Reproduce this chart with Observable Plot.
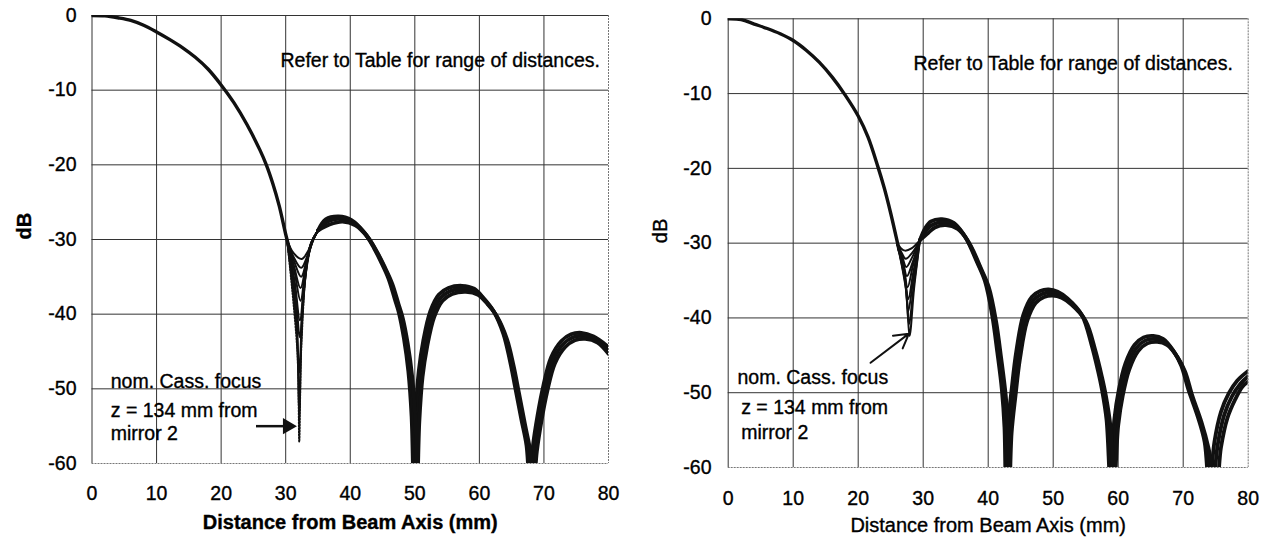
<!DOCTYPE html>
<html>
<head>
<meta charset="utf-8">
<script src="https://cdn.jsdelivr.net/npm/d3@7"></script>
<script src="https://cdn.jsdelivr.net/npm/@observablehq/plot@0.6"></script>
<style>
  body { margin: 0; background: #fff; }
  #wrap { display: flex; width: 1271px; height: 544px; overflow: hidden; }
  #wrap svg { flex: none; max-width: none; }
  #wrap svg text { stroke: #000; stroke-width: 0.35px; }
</style>
</head>
<body>
<div id="wrap"></div>
<script>
// Axis ticks shared by both panels
const xTicks = [0, 10, 20, 30, 40, 50, 60, 70, 80];
const yTicks = [0, -10, -20, -30, -40, -50, -60];

// Text
const xTitle = "Distance from Beam Axis (mm)";
const yTitle = "dB";
const tableNote = "Refer to Table for range of distances.";
const focusNote = ["nom. Cass. focus", "z = 134 mm from", "mirror 2"];

// ---- Left panel: beam cuts [distance mm, dB] ----
// main lobe, common to every cut
const leftMain = [[0,0],[2,-0.05],[4,-0.3],[6,-0.65],[8,-1.3],[10,-2.2],[12,-3.2],[14,-4.3],[16,-5.6],[18,-7.2],[20,-9.3],[22,-11.7],[24,-14.6],[26,-18.0],[27,-20],[28,-22.5],[29,-25.5],[30,-29.3],[30.5,-31]];
// first null, one V per distance
const leftNulls = [
  [[30.2,-30],[31.2,-31.8],[32.5,-32.6],[33.5,-31.5],[34.3,-29.9],[35,-28.8]],
  [[30.2,-30],[31.2,-32.3],[32.4,-33.8],[33.4,-32.1],[34.3,-30.0],[35,-28.8]],
  [[30.2,-30],[31.3,-32.9],[32.4,-35.0],[33.3,-32.6],[34.2,-30.1],[35,-28.8]],
  [[30.2,-30],[31.3,-33.6],[32.3,-36.5],[33.2,-33.2],[34.2,-30.2],[35,-28.8]],
  [[30.2,-30],[31.4,-34.5],[32.3,-38.2],[33.1,-33.8],[34.1,-30.3],[35,-28.8]],
  [[30.2,-30],[31.4,-35.7],[32.2,-40.8],[33.0,-34.8],[34.0,-30.4],[35,-28.8]],
  [[30.2,-30],[31.5,-37.0],[32.2,-43.1],[32.9,-36.0],[34.0,-30.5],[35,-28.8]],
  [[30.2,-30],[31.6,-39.5],[32.1,-47.8],[32.7,-38.0],[33.9,-30.6],[35,-28.8]],
  [[30.2,-30],[31.7,-42.0],[32.1,-53.3],[32.6,-40.0],[33.8,-30.8],[35,-28.8]]
];
// nominal Cassegrain focus cut (dotted)
const leftFocus = [[30.2,-30],[31.8,-45],[32.1,-57.1],[32.5,-43],[33.7,-31],[35,-28.8]];
// sidelobes: inner, middle and outer edge of the bundle of cuts
const leftSideInner = [[35,-28.8],[36.2,-27.3],[38.2,-26.9],[40.2,-27.4],[42.2,-29.1],[43.7,-31.2],[44.7,-32.9],[45.9,-35.2],[46.9,-38.0],[47.5,-39.7],[48.3,-43.2],[49.0,-47.7],[49.5,-53.7],[49.8,-62],[50.1,-53.7],[50.6,-47.7],[51.3,-43.6],[52.4,-39.6],[53.7,-37.4],[55.2,-36.5],[57.3,-36.2],[59.2,-36.6],[60.7,-37.9],[62.2,-39.6],[63.7,-42.6],[64.7,-46.1],[65.5,-49.6],[66.5,-54.1],[67.3,-57.6],[67.8,-63],[68.3,-57.6],[69.0,-53.6],[69.9,-49.6],[71.1,-45.8],[72.7,-43.6],[74.2,-42.7],[75.8,-42.5],[77.7,-43.0],[80,-44.4]];
const leftSideMid = [[35,-28.8],[36.5,-27.6],[38.5,-27.2],[40.5,-27.7],[42.5,-29.4],[44,-31.5],[45,-33.2],[46.2,-35.5],[47.2,-38.3],[47.8,-40],[48.6,-43.5],[49.3,-48],[49.8,-54],[50.1,-62],[50.4,-54],[50.9,-48],[51.6,-44],[52.7,-40],[54,-37.8],[55.5,-36.9],[57.6,-36.6],[59.5,-37.0],[61,-38.3],[62.5,-40],[64,-43],[65,-46.5],[65.8,-50],[66.8,-54.5],[67.6,-58],[68.1,-63],[68.6,-58],[69.3,-54],[70.2,-50],[71.4,-46.2],[73,-44.0],[74.5,-43.1],[76.1,-42.9],[78,-43.4],[80,-44.9]];
const leftSideOuter = [[35,-28.8],[36.8,-28.0],[38.8,-27.6],[40.8,-28.1],[42.8,-29.8],[44.3,-31.9],[45.3,-33.6],[46.5,-35.9],[47.5,-38.7],[48.1,-40.4],[48.9,-43.9],[49.6,-48.4],[50.1,-54.4],[50.4,-62],[50.7,-54.4],[51.2,-48.4],[51.9,-44.4],[53.0,-40.4],[54.3,-38.2],[55.8,-37.3],[57.9,-37.0],[59.8,-37.4],[61.3,-38.7],[62.8,-40.4],[64.3,-43.4],[65.3,-46.9],[66.1,-50.4],[67.1,-54.9],[67.9,-58.4],[68.4,-63],[68.9,-58.4],[69.6,-54.4],[70.5,-50.4],[71.7,-46.6],[73.3,-44.4],[74.8,-43.5],[76.4,-43.3],[78.3,-43.8],[80,-45.3]];

// ---- Right panel ----
const rightMain = [[0,0],[2,-0.1],[4,-0.7],[6,-1.3],[8,-2.0],[10,-2.9],[12,-4.2],[14,-5.8],[16,-7.8],[18,-10.2],[20,-13.0],[21.5,-15.8],[23,-19.7],[24,-22.6],[25,-26],[26,-29.8],[26.3,-31]];
const rightNulls = [
  [[26.0,-30],[26.6,-30.7],[27.2,-31.0],[28.2,-30.7],[29.5,-29.6]],
  [[26.0,-30],[26.7,-31.3],[27.3,-32.1],[28.3,-31.3],[29.5,-29.6]],
  [[26.0,-30],[26.8,-31.9],[27.4,-33.2],[28.3,-31.9],[29.5,-29.6]],
  [[26.0,-30],[26.9,-32.5],[27.5,-34.4],[28.4,-32.5],[29.5,-29.6]],
  [[26.0,-30],[27.0,-33.2],[27.6,-35.9],[28.4,-33.1],[29.5,-29.6]],
  [[26.0,-30],[27.1,-34.0],[27.7,-37.5],[28.5,-33.8],[29.5,-29.6]],
  [[26.0,-30],[27.2,-34.8],[27.7,-39.1],[28.5,-34.6],[29.5,-29.6]],
  [[26.0,-30],[27.3,-35.6],[27.8,-40.8],[28.6,-35.3],[29.5,-29.6]],
  [[26.0,-30],[27.4,-36.5],[27.9,-42.4],[28.6,-36.0],[29.5,-29.6]]
];
const rightSideInner = [[29.5,-29.6],[30.3,-28.0],[31.2,-27.1],[32.9,-26.8],[34.7,-27.3],[36.2,-28.8],[37.2,-30.4],[38.2,-32.4],[39.5,-35.1],[40.6,-39.6],[41.4,-44.6],[42.1,-49.6],[42.5,-54.6],[42.7,-62],[43.0,-54.6],[43.6,-49.6],[44.3,-44.6],[45.4,-39.6],[46.7,-37.2],[48.0,-36.4],[49.3,-36.2],[50.7,-36.5],[52.2,-37.4],[54.4,-39.6],[55.9,-43.6],[56.9,-47.1],[57.5,-49.6],[58.2,-53.6],[58.8,-62],[59.4,-53.6],[60.1,-49.6],[61.1,-46.1],[62.5,-43.6],[63.9,-42.6],[65.4,-42.4],[66.9,-42.8],[68.5,-44.4],[69.7,-46.4],[70.8,-49.6],[72.2,-53.1],[73.3,-56.6],[74.0,-63],[74.8,-56.6],[75.8,-52.6],[77.0,-50.1],[78.3,-48.4],[80,-47.1]];
const rightSideMid = [[29.5,-29.6],[30.5,-28.2],[31.5,-27.5],[33.2,-27.2],[35,-27.7],[36.5,-29.2],[37.5,-30.8],[38.5,-32.8],[39.8,-35.5],[40.9,-40],[41.7,-45],[42.4,-50],[42.8,-55],[43.0,-62],[43.3,-55],[43.9,-50],[44.6,-45],[45.7,-40],[47,-37.6],[48.3,-36.8],[49.6,-36.6],[51,-36.9],[52.5,-37.8],[54.7,-40],[56.2,-44],[57.2,-47.5],[57.8,-50],[58.5,-54],[59.1,-62],[59.7,-54],[60.4,-50],[61.4,-46.5],[62.8,-44],[64.2,-43],[65.7,-42.8],[67.2,-43.2],[68.8,-44.8],[70,-46.8],[71.1,-50],[72.5,-53.5],[73.6,-57],[74.5,-63],[75.3,-57],[76.3,-53],[77.5,-50.5],[78.8,-48.8],[80,-47.8]];
const rightSideOuter = [[29.5,-29.6],[30.8,-28.6],[31.8,-27.9],[33.5,-27.6],[35.3,-28.1],[36.8,-29.6],[37.8,-31.2],[38.8,-33.2],[40.1,-35.9],[41.2,-40.4],[42.0,-45.4],[42.7,-50.4],[43.1,-55.4],[43.3,-62],[43.6,-55.4],[44.2,-50.4],[44.9,-45.4],[46.0,-40.4],[47.3,-38.0],[48.6,-37.2],[49.9,-37.0],[51.3,-37.3],[52.8,-38.2],[55.0,-40.4],[56.5,-44.4],[57.5,-47.9],[58.1,-50.4],[58.8,-54.4],[59.4,-62],[60.0,-54.4],[60.7,-50.4],[61.7,-46.9],[63.1,-44.4],[64.5,-43.4],[66.0,-43.2],[67.5,-43.6],[69.1,-45.2],[70.3,-47.2],[71.4,-50.4],[72.8,-53.9],[73.9,-57.4],[75.1,-63],[75.8,-57.4],[76.8,-53.4],[78.0,-50.9],[79.1,-49.2],[80,-48.5]];

const INK = "#111";
const FONT = "'Liberation Sans', Arial, Helvetica, sans-serif";

const rows = (pts, id = 0) => pts.map(([x, db]) => ({x, db, id}));

function panel(cfg) {
  const nullRows = cfg.nulls.flatMap((p, i) => rows(p, i));
  const sideRows = cfg.sides.flatMap((p, i) => rows(p, i));
  const line = (data, opts) => Plot.line(data, {x: "x", y: "db", z: "id", curve: "catmull-rom", stroke: INK, clip: true, ...opts});
  const marks = [
    // grid: interior lines dark, right/bottom edges dotted grey
    Plot.ruleX(xTicks.slice(0, -1), {stroke: "#333", strokeWidth: 1}),
    Plot.ruleX(xTicks.slice(-1), {stroke: "#777", strokeWidth: 1, strokeDasharray: "2,1"}),
    Plot.ruleY(yTicks.slice(0, -1), {stroke: "#333", strokeWidth: 1}),
    Plot.ruleY(yTicks.slice(-1), {stroke: "#777", strokeWidth: 1, strokeDasharray: "2,1"}),
    // beam cuts
    line(rows(cfg.main), {strokeWidth: 3.4}),
    line(nullRows, {strokeWidth: 2}),
    line(sideRows, {strokeWidth: 3.8}),
    // axis titles
    Plot.text([yTitle], {frameAnchor: "left", dx: cfg.yTitleDx, rotate: -90, fontSize: 20, fontWeight: cfg.bold ? "bold" : "normal", fill: "#000"}),
    Plot.text([xTitle], {frameAnchor: "bottom", dy: cfg.xTitleDy, fontSize: 20, fontWeight: cfg.bold ? "bold" : "normal", fill: "#000"}),
    // notes
    Plot.text([{x: cfg.tableAt[0], db: cfg.tableAt[1], t: tableNote}], {x: "x", y: "db", text: "t", textAnchor: "start", fontSize: 19.5, fill: "#000"}),
    Plot.text(focusNote.map((t, i) => ({t, x: cfg.focusAt[i][0], db: cfg.focusAt[i][1]})), {x: "x", y: "db", text: "t", textAnchor: "start", fontSize: 19.5, fill: "#000"})
  ];
  if (cfg.focus) marks.push(line(rows(cfg.focus), {strokeWidth: 1.8, strokeDasharray: "1.5,1.5"}));
  marks.push(...cfg.extra);
  return Plot.plot({
    width: cfg.width,
    height: 544,
    marginLeft: cfg.ml, marginRight: cfg.mr, marginTop: cfg.mt, marginBottom: cfg.mb,
    style: {fontFamily: FONT, fontSize: "19.5px", color: "#000", background: "#fff", overflow: "visible"},
    x: {domain: [0, 80], ticks: xTicks, tickFormat: d => String(d), tickSize: 0, tickPadding: cfg.xPad, label: null},
    y: {domain: [-60, 0], ticks: yTicks, tickFormat: d => String(d), tickSize: 0, tickPadding: cfg.yPad, label: null},
    marks
  });
}

const left = panel({
  width: 635, ml: 91.5, mr: 27, mt: 15, mb: 81, xPad: 23, yPad: 15.5,
  yTitleDx: -67, xTitleDy: 65, bold: true,
  main: leftMain, nulls: leftNulls, sides: [leftSideInner, leftSideMid, leftSideOuter], focus: leftFocus,
  tableAt: [29.2, -6], focusAt: [[2.9, -49.0], [2.9, -52.9], [2.9, -56.0]],
  extra: [
    Plot.link([{x1: 25.4, x2: 30.0, y: -55.0}], {x1: "x1", x2: "x2", y1: "y", y2: "y", stroke: INK, strokeWidth: 2.5}),
    Plot.dot([{x: 30.3, y: -55.0}], {x: "x", y: "y", symbol: "triangle", r: 6, fill: INK, rotate: 90})
  ]
});

const right = panel({
  width: 636, ml: 92.7, mr: 23.3, mt: 18.3, mb: 77, xPad: 24, yPad: 16.7,
  yTitleDx: -68, xTitleDy: 64.7, bold: false,
  main: rightMain, nulls: rightNulls, sides: [rightSideInner, rightSideMid, rightSideOuter], focus: null,
  tableAt: [28.5, -6], focusAt: [[1.43, -48.0], [2.0, -52.0], [2.0, -55.3]],
  extra: [
    Plot.arrow([{x1: 21.9, y1: -46.0, x2: 27.8, y2: -42.1}], {x1: "x1", y1: "y1", x2: "x2", y2: "y2", stroke: INK, strokeWidth: 2, headLength: 13})
  ]
});

document.getElementById("wrap").append(left, right);
</script>
</body>
</html>
